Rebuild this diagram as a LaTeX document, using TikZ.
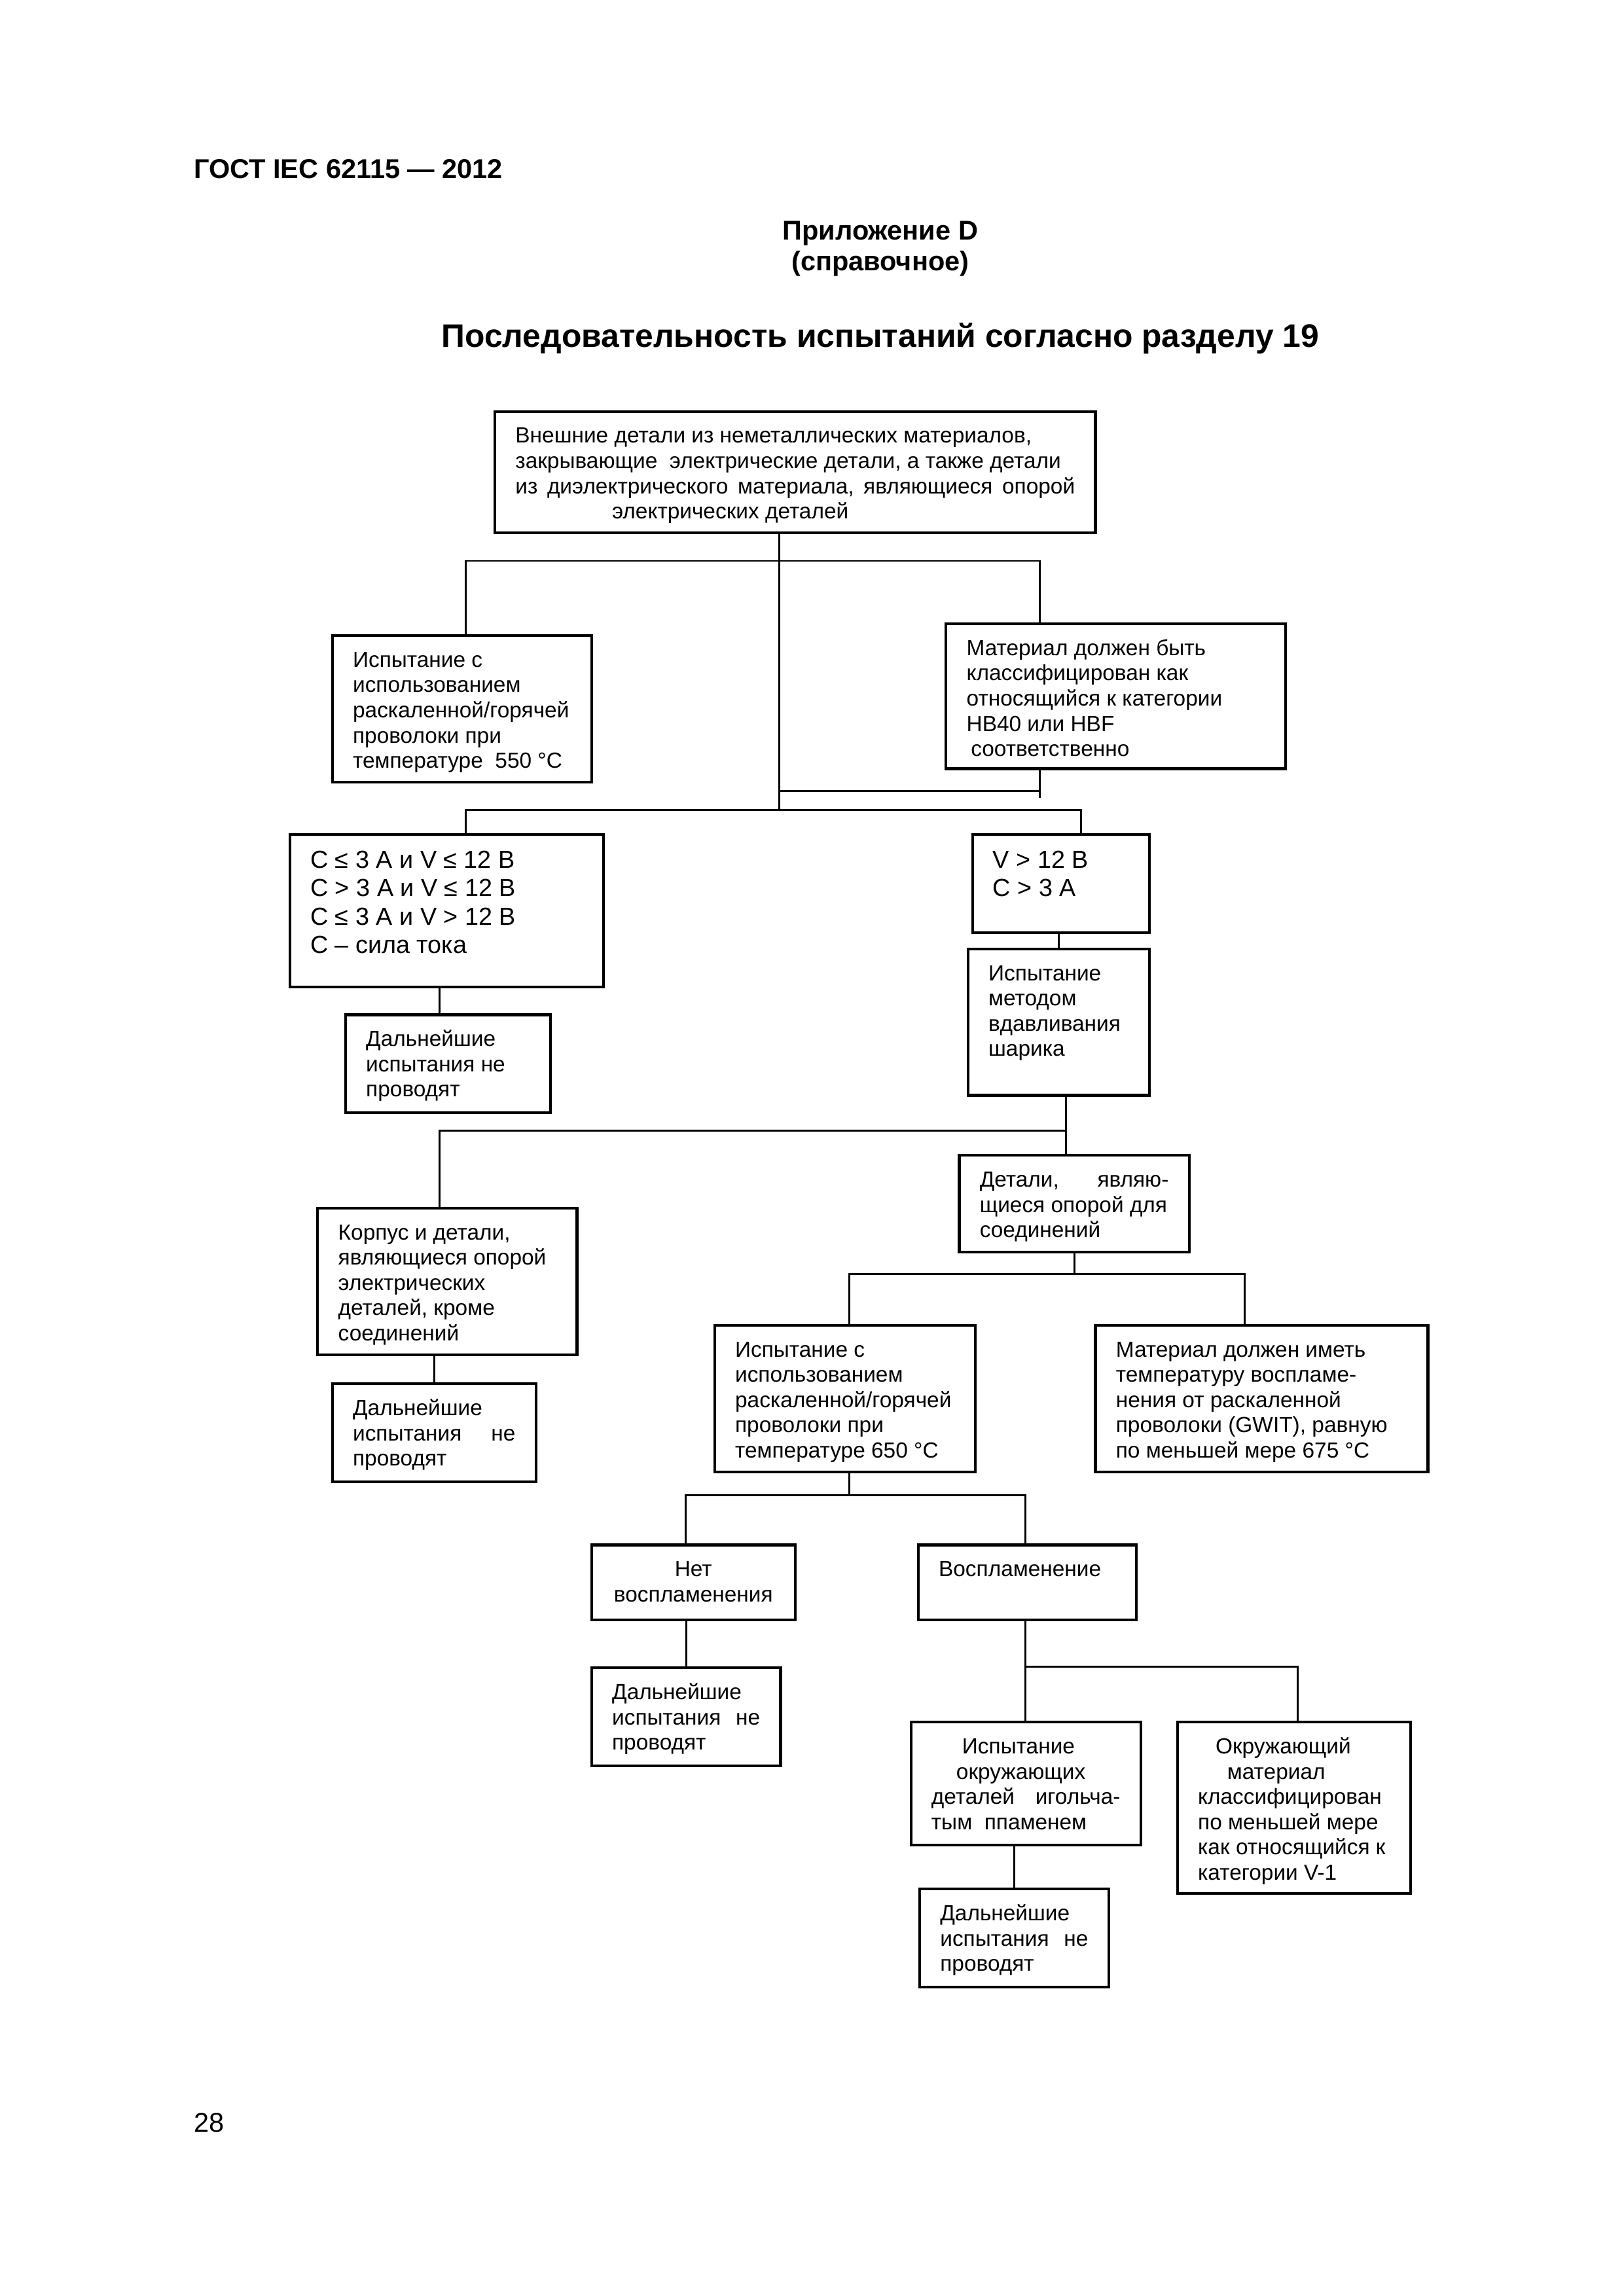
\documentclass[tikz,border=0pt]{standalone}
\usepackage{fontspec}
\setmainfont{Liberation Sans}
\usetikzlibrary{positioning, calc}

\newlength\pu
\setlength\pu{0.18944mm}

% text block of a box: width, height, text
\newcommand{\bx}[3]{\parbox[t][#2\pu][t]{#1\pu}{\vspace*{9.5\pu}\leftskip=14\pu\rightskip=14\pu\parindent=0pt\strut#3\par}}

\tikzset{
  blk/.style={draw, line width=1pt, anchor=north west, inner sep=0pt,
    font=\fontsize{8.05}{9.3}\selectfont},
  big/.style={font=\fontsize{9.1}{10.4}\selectfont},
  wire/.style={line width=0.7pt},
  head/.style={inner sep=0pt, font=\fontsize{10}{12}\selectfont\bfseries},
}

\begin{document}
\begin{tikzpicture}[x=\pu, y=-\pu]
   \useasboundingbox (0,0) rectangle (210mm,-297mm);

   \node[head, anchor=base west] (gost) at (132,122) {ГОСТ IEC 62115 — 2012};
   \node[head, anchor=base] (app) at (601,164) {Приложение D};
   \node[head, anchor=base] (ref) at (601,185) {(справочное)};
   \node[inner sep=0pt, font=\fontsize{12}{14}\selectfont\bfseries, anchor=base] (title) at (601,237)
      {Последовательность испытаний согласно разделу 19};
   \node[inner sep=0pt, font=\fontsize{10}{12}\selectfont, anchor=base west] (page) at (132,1456) {28};

   \node[blk] (n1) at (337,280) {\bx{410}{83}{Внешние детали из неметаллических материалов,\\
      закрывающие\ \ электрические детали, а также детали\\
      из\hfill диэлектрического\hfill материала,\hfill являющиеся\hfill опорой\\
      \hspace*{66\pu}электрических деталей}};
   \node[blk] (n2) at (226,433) {\bx{177}{100}{Испытание с\\ использованием\\ раскаленной/горячей\\
      проволоки при\\ температуре\ \ 550 °C}};
   \node[blk] (n3) at (645,425) {\bx{232}{99}{Материал должен быть\\ классифицирован как\\
      относящийся к категории\\ HB40 или HBF\\ \hspace*{3\pu}соответственно}};
   \node[blk, big] (n4) at (197,569) {\bx{214}{104}{C ≤ 3 A и V ≤ 12 В\\ C > 3 A и V ≤ 12 В\\
      C ≤ 3 A и V > 12 В\\ C – сила тока}};
   \node[blk, big] (n5) at (663,569) {\bx{121}{67}{V > 12 В\\ C > 3 A}};
   \node[blk] (n6) at (235,692) {\bx{140}{67}{Дальнейшие\\ испытания не\\ проводят}};
   \node[blk] (n7) at (660,647) {\bx{124}{100}{Испытание\\ методом\\ вдавливания\\ шарика}};
   \node[blk] (n8) at (654,788) {\bx{157}{66}{Детали,\hfill являю-\\ щиеся опорой для\\ соединений}};
   \node[blk] (n9) at (216,824) {\bx{177}{100}{Корпус и детали,\\ являющиеся опорой\\ электрических\\
      деталей, кроме\\ соединений}};
   \node[blk] (n10) at (226,944) {\bx{139}{67}{Дальнейшие\\ испытания\hfill не\\ проводят}};
   \node[blk] (n11) at (487,904) {\bx{178}{100}{Испытание с\\ использованием\\ раскаленной/горячей\\
      проволоки при\\ температуре 650 °C}};
   \node[blk] (n12) at (747,904) {\bx{227}{100}{Материал должен иметь\\ температуру воспламе-\\
      нения от раскаленной\\ проволоки (GWIT), равную\\ по меньшей мере 675 °C}};
   \node[blk] (n13) at (403,1054) {\bx{139}{51}{\centering Нет\\ воспламенения}};
   \node[blk] (n14) at (626,1054) {\bx{149}{51}{Воспламенение}};
   \node[blk] (n15) at (403,1138) {\bx{129}{67}{Дальнейшие\\ испытания\hfill не\\ проводят}};
   \node[blk] (n16) at (621,1175) {\bx{157}{84}{\hspace*{21\pu}Испытание\\ \hspace*{17\pu}окружающих\\
      деталей\hfill игольча-\\ тым\ \ ппаменем}};
   \node[blk] (n17) at (803,1175) {\bx{159}{117}{\hspace*{12\pu}Окружающий\\ \hspace*{20\pu}материал\\
      классифицирован\\ по меньшей мере\\ как относящийся к\\ категории V-1}};
   \node[blk] (n18) at (627,1289) {\bx{129}{67}{Дальнейшие\\ испытания\hfill не\\ проводят}};

   % bus points
   \coordinate (a1) at (318,383);
   \coordinate (a2) at (710,383);
   \coordinate (a3) at (532,540);
   \coordinate (a4) at (710,545);
   \coordinate (b1) at (318,553);
   \coordinate (b2) at (738,553);
   \coordinate (m) at (532,553);
   \coordinate (c1) at (300,772);
   \coordinate (c2) at (728,772);
   \coordinate (e1) at (580,870);
   \coordinate (e2) at (850,870);
   \coordinate (f1) at (468,1021);
   \coordinate (f2) at (700,1021);
   \coordinate (g1) at (700,1138);
   \coordinate (g2) at (886,1138);

   \draw[wire] (n1.south -| m) -- (m);
   \draw[wire] (n2.north -| a1) -- (a1) -- (a2) -- (n3.north -| a2);
   \draw[wire] (n3.south -| a4) -- (a4);
   \draw[wire] (a3) -- (a3 -| a4);
   \draw[wire] (n4.north -| b1) -- (b1) -- (b2) -- (n5.north -| b2);
   \draw[wire] (n4.south -| c1) -- (n6.north -| c1);
   \draw[wire] (n5.south -| n7.north) -- (n7.north);
   \draw[wire] (n7.south -| c2) -- (c2) -- (c1) -- (n9.north -| c1);
   \draw[wire] (c2) -- (n8.north -| c2);
   \draw[wire] (n9.south -| n10.north) -- (n10.north);
   \draw[wire] (n8.south) -- (n8.south |- e1);
   \draw[wire] (n11.north -| e1) -- (e1) -- (e2) -- (n12.north -| e2);
   \draw[wire] (n11.south -| e1) -- (e1 |- f1);
   \draw[wire] (n13.north -| f1) -- (f1) -- (f2) -- (n14.north -| f2);
   \draw[wire] (n13.south -| n15.north) -- (n15.north);
   \draw[wire] (n14.south -| g1) -- (g1) -- (g2) -- (n17.north -| g2);
   \draw[wire] (g1) -- (n16.north -| g1);
   \draw[wire] (n16.south -| n18.north) -- (n18.north);
\end{tikzpicture}
\end{document}
